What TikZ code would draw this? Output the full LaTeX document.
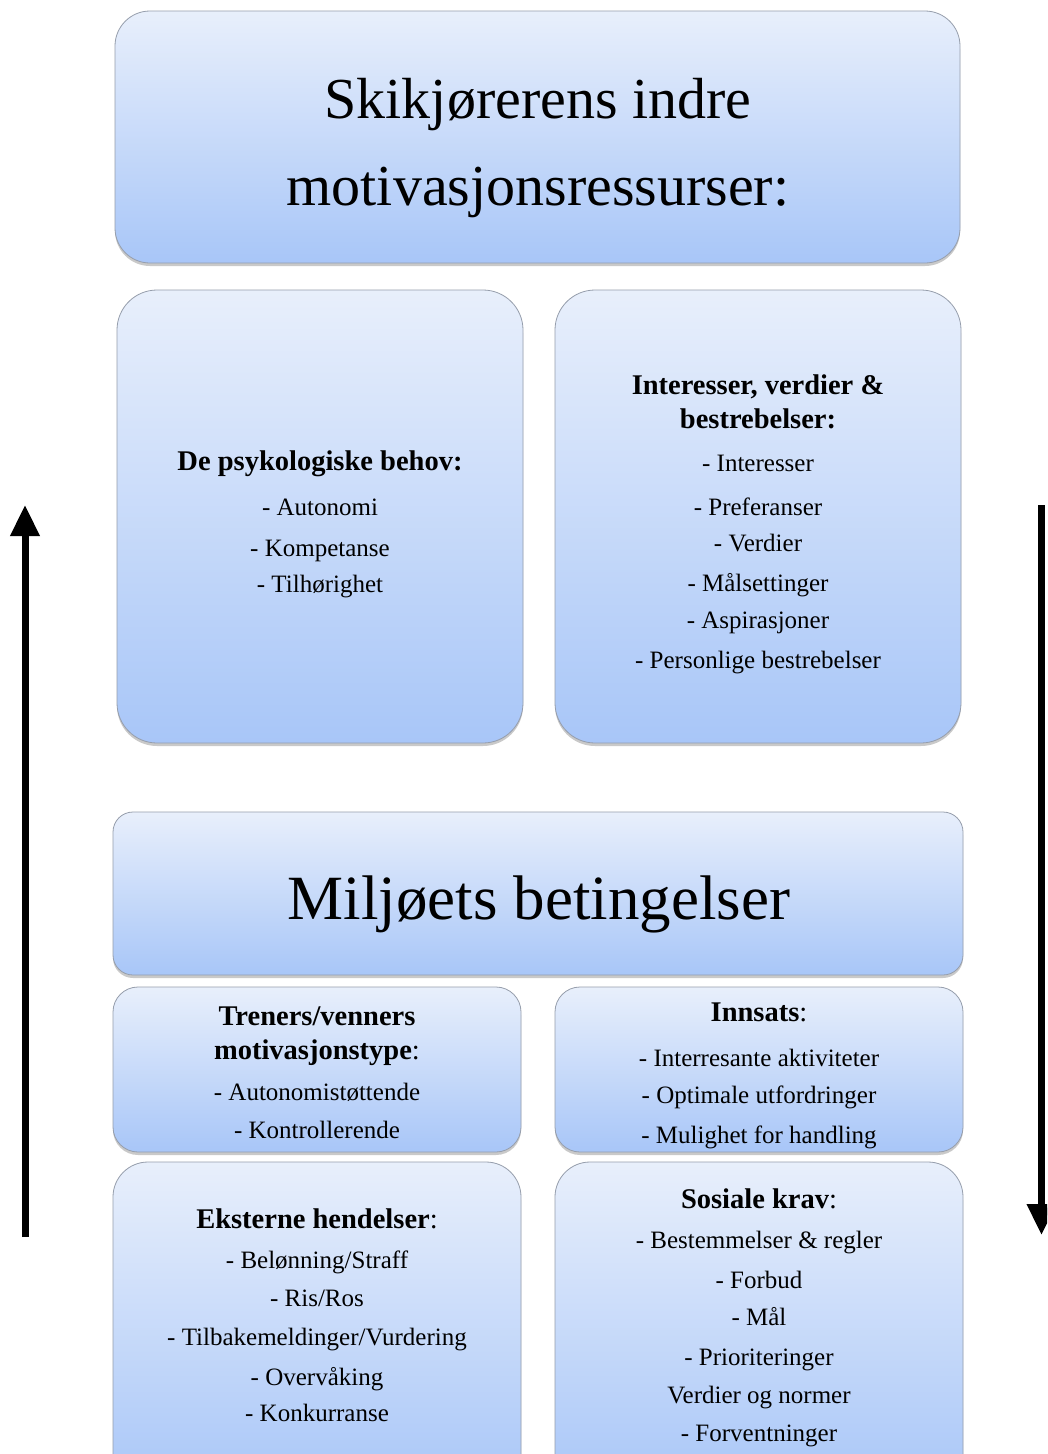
\documentclass[tikz,border=0pt]{standalone}
\usepackage{fontspec}
\setmainfont{Liberation Serif}
\usetikzlibrary{shadows,arrows.meta}
\definecolor{boxtop}{RGB}{232,239,251}
\definecolor{boxbot}{RGB}{168,198,248}
\definecolor{boxline}{RGB}{150,158,172}
\tikzset{
  panel/.style={draw=boxline, line width=0.8pt, top color=boxtop, bottom color=boxbot,
    drop shadow={shadow xshift=0pt, shadow yshift=-3pt, opacity=0.35, fill=black!60},
    inner sep=0pt},
  bigtitle/.style={font=\fontsize{58}{60}\selectfont, anchor=base, inner sep=0pt},
  envtitle/.style={font=\fontsize{63}{66}\selectfont, anchor=base, inner sep=0pt},
  head/.style={font=\bfseries\fontsize{28.5}{32}\selectfont, anchor=mid, yshift=-6pt, inner sep=0pt},
  item/.style={font=\fontsize{25}{30}\selectfont, anchor=mid, yshift=-6pt, inner sep=0pt},
  bigarrow/.style={line width=7pt, -{Triangle[length=31pt,width=28pt]}}
}
\begin{document}
\begin{tikzpicture}[x=1pt, y=-1pt]
\useasboundingbox (0,0) rectangle (1047,1454);
\clip (0,0) rectangle (1047,1454);
\fill[white] (0,0) rectangle (1047,1454);

% panels
\node[panel, rounded corners=35pt, minimum width=845pt, minimum height=252pt] (inner) at (537.5,137) {};
\node[panel, rounded corners=40pt, minimum width=406pt, minimum height=453pt] (needs) at (320,516.5) {};
\node[panel, rounded corners=40pt, minimum width=406pt, minimum height=453pt] (values) at (758,516.5) {};
\node[panel, rounded corners=20pt, minimum width=850pt, minimum height=163pt] (env) at (538,893.5) {};
\node[panel, rounded corners=25pt, minimum width=408pt, minimum height=165pt] (coach) at (317,1069.5) {};
\node[panel, rounded corners=25pt, minimum width=408pt, minimum height=165pt] (effort) at (759,1069.5) {};
\node[panel, rounded corners=35pt, minimum width=408pt, minimum height=330pt] (events) at (317,1327) {};
\node[panel, rounded corners=35pt, minimum width=408pt, minimum height=330pt] (social) at (759,1327) {};

% titles
\node[bigtitle] (inner-1) at (538,118) {Skikjørerens indre};
\node[bigtitle] (inner-2) at (538,205) {motivasjonsressurser:};
\node[envtitle] (env-1) at (539,919) {Miljøets betingelser};

% psychological needs
\node[head] (needs-h) at (320,462) {De psykologiske behov:};
\node[item] (needs-1) at (320,507) {- Autonomi};
\node[item] (needs-2) at (320,548) {- Kompetanse};
\node[item] (needs-3) at (320,584) {- Tilhørighet};

% interests and values
\node[head] (values-h1) at (758,386) {Interesser, verdier \&};
\node[head] (values-h2) at (758,420) {bestrebelser:};
\node[item] (values-1) at (758,463) {- Interesser};
\node[item] (values-2) at (758,507) {- Preferanser};
\node[item] (values-3) at (758,543) {- Verdier};
\node[item] (values-4) at (758,583) {- Målsettinger};
\node[item] (values-5) at (758,620) {- Aspirasjoner};
\node[item] (values-6) at (758,660) {- Personlige bestrebelser};

% coach / friends
\node[head] (coach-h1) at (317,1017) {Treners/venners};
\node[head] (coach-h2) at (317,1051) {motivasjonstype\textmd{:}};
\node[item] (coach-1) at (317,1092) {- Autonomistøttende};
\node[item] (coach-2) at (317,1130) {- Kontrollerende};

% effort
\node[head] (effort-h) at (759,1013) {Innsats\textmd{:}};
\node[item] (effort-1) at (759,1058) {- Interresante aktiviteter};
\node[item] (effort-2) at (759,1095) {- Optimale utfordringer};
\node[item] (effort-3) at (759,1135) {- Mulighet for handling};

% external events
\node[head] (events-h) at (317,1220) {Eksterne hendelser\textmd{:}};
\node[item] (events-1) at (317,1260) {- Belønning/Straff};
\node[item] (events-2) at (317,1298) {- Ris/Ros};
\node[item] (events-3) at (317,1337) {- Tilbakemeldinger/Vurdering};
\node[item] (events-4) at (317,1377) {- Overvåking};
\node[item] (events-5) at (317,1413) {- Konkurranse};

% social demands
\node[head] (social-h) at (759,1200) {Sosiale krav\textmd{:}};
\node[item] (social-1) at (759,1240) {- Bestemmelser \& regler};
\node[item] (social-2) at (759,1280) {- Forbud};
\node[item] (social-3) at (759,1317) {- Mål};
\node[item] (social-4) at (759,1357) {- Prioriteringer};
\node[item] (social-5) at (759,1395) {Verdier og normer};
\node[item] (social-6) at (759,1433) {- Forventninger};

% side arrows
\coordinate (up-from) at (25,1237);
\coordinate (up-to) at (25,505);
\coordinate (down-from) at (1041.5,505);
\coordinate (down-to) at (1041.5,1235);
\draw[bigarrow] (up-from) -- (up-to);
\draw[bigarrow] (down-from) -- (down-to);
\end{tikzpicture}
\end{document}
